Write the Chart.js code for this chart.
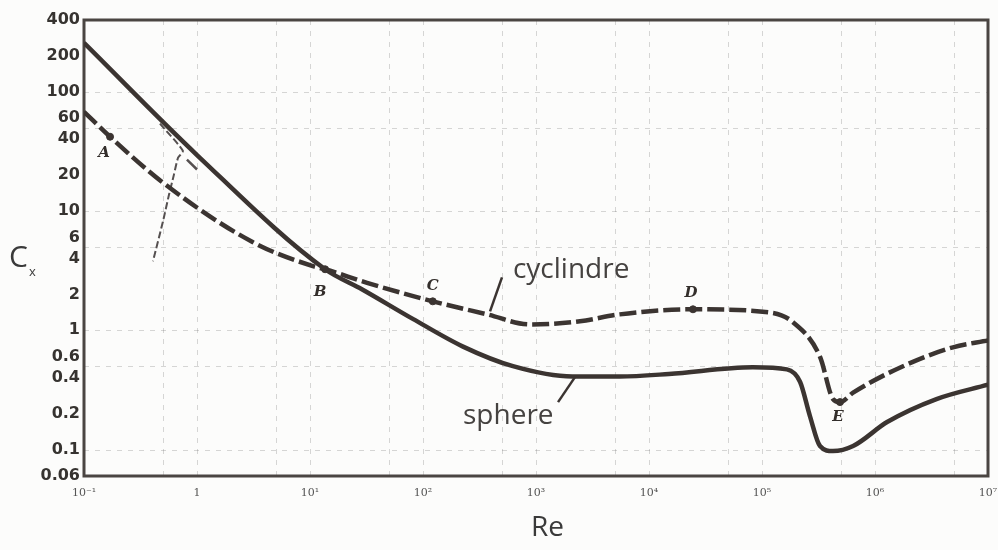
<!DOCTYPE html>
<html>
<head>
  <title>Cx vs Re</title>
  <script src="https://cdn.jsdelivr.net/npm/chart.js"></script>
  <style>
    body {
      margin: 0;
      padding: 0;
      background: #fcfcfb;
    }
    .wrap {
      width: 998px;
      height: 550px;
    }
  </style>
</head>
<body>
  <div class="wrap"><canvas id="cx"></canvas></div>
  <script>
    // values
    const sphereRe = [0.1, 1, 13.6, 29, 82, 226, 625, 2100, 5500, 15000, 83000, 166000, 217000, 266000, 326000, 425000, 640000, 1.28e6, 3.5e6, 1e7];
    const sphereCx = [257, 29.5, 3.25, 2.2, 1.24, 0.73, 0.5, 0.41, 0.41, 0.43, 0.49, 0.47, 0.37, 0.19, 0.107, 0.097, 0.107, 0.17, 0.265, 0.35];

    const cylRe = [0.1, 0.17, 0.5, 3.1, 10.6, 13.6, 32, 122, 370, 885, 2450, 5500, 24500, 118000, 188000, 326000, 425000, 490000, 640000, 1.77e6, 4.9e6, 1e7];
    const cylCx = [68, 42, 17.3, 5.5, 3.45, 3.25, 2.5, 1.75, 1.36, 1.12, 1.19, 1.36, 1.5, 1.41, 1.17, 0.6, 0.265, 0.25, 0.30, 0.5, 0.72, 0.82];

    // little side curves near Re = 1
    const auxRe = [0.47, 0.75, 0.68, 0.625, 0.565, 0.5, 0.408];
    const auxCx = [54, 32, 28, 20.2, 13.7, 8.2, 3.8];
    const stubRe = [0.815, 1.0];
    const stubCx = [27, 22.3];

    const pointNames = ['A', 'B', 'C', 'D', 'E'];
    const pointRe = [0.17, 13.6, 122, 24500, 490000];
    const pointCx = [42, 3.25, 1.75, 1.5, 0.25];

    const xTicks = [0.1, 1, 10, 100, 1e3, 1e4, 1e5, 1e6, 1e7];
    const xTickLabels = ['10\u207B\u00B9', '1', '10\u00B9', '10\u00B2', '10\u00B3', '10\u2074', '10\u2075', '10\u2076', '10\u2077'];
    const yTicks = [400, 200, 100, 60, 40, 20, 10, 6, 4, 2, 1, 0.6, 0.4, 0.2, 0.1, 0.06];
    const xGrid = [0.5, 1, 5, 10, 50, 100, 500, 1e3, 5e3, 1e4, 5e4, 1e5, 5e5, 1e6, 5e6];
    const yGrid = [100, 50, 10, 5, 1, 0.5, 0.1];

    const ink = '#3b3431';

    function pts(xs, ys) {
      return xs.map((x, i) => ({ x: x, y: ys[i] }));
    }

    const extras = {
      id: 'extras',
      beforeDatasetsDraw(chart) {
        const ctx = chart.ctx, a = chart.chartArea;
        const xs = chart.scales.x, ys = chart.scales.y;
        ctx.save();
        ctx.strokeStyle = 'rgba(110,110,110,0.28)';
        ctx.lineWidth = 1;
        ctx.setLineDash([5, 6]);
        xGrid.forEach(v => {
          const px = Math.round(xs.getPixelForValue(v)) + 0.5;
          ctx.beginPath(); ctx.moveTo(px, a.top); ctx.lineTo(px, a.bottom); ctx.stroke();
        });
        yGrid.forEach(v => {
          const py = Math.round(ys.getPixelForValue(v)) + 0.5;
          ctx.beginPath(); ctx.moveTo(a.left, py); ctx.lineTo(a.right, py); ctx.stroke();
        });
        ctx.setLineDash([]);
        ctx.strokeStyle = '#4a4542';
        ctx.lineWidth = 3;
        ctx.strokeRect(a.left, a.top, a.right - a.left, a.bottom - a.top);
        ctx.restore();
      },
      afterDatasetsDraw(chart) {
        const ctx = chart.ctx;
        const xs = chart.scales.x, ys = chart.scales.y;
        const P = (re, cx) => [xs.getPixelForValue(re), ys.getPixelForValue(cx)];
        ctx.save();

        // leader lines
        ctx.strokeStyle = ink;
        ctx.lineWidth = 2.5;
        [[392, 1.44, 500, 2.78], [2213, 0.405, 1567, 0.25]].forEach(l => {
          const p1 = P(l[0], l[1]), p2 = P(l[2], l[3]);
          ctx.beginPath(); ctx.moveTo(p1[0], p1[1]); ctx.lineTo(p2[0], p2[1]); ctx.stroke();
        });

        // curve names
        ctx.fillStyle = '#454240';
        ctx.font = '28px "Open Sans"';
        ctx.textAlign = 'left';
        ctx.textBaseline = 'alphabetic';
        let p = P(625, 2.72);
        ctx.fillText('cyclindre', p[0], p[1]);
        p = P(226, 0.163);
        ctx.fillText('sphere', p[0], p[1]);

        // point letters
        const offs = [[-6, 16], [-5, 23], [0, -15], [-2, -16], [-2, 15]];
        ctx.font = 'italic bold 15px "DejaVu Serif"';
        ctx.textAlign = 'center';
        ctx.textBaseline = 'middle';
        ctx.fillStyle = '#332e2b';
        pointNames.forEach((n, i) => {
          const q = P(pointRe[i], pointCx[i]);
          ctx.fillText(n, q[0] + offs[i][0], q[1] + offs[i][1]);
        });

        // axis titles
        ctx.fillStyle = '#3a3a3a';
        ctx.textAlign = 'left';
        ctx.textBaseline = 'alphabetic';
        ctx.font = '30px "Open Sans"';
        ctx.fillText('C', 9, 267);
        ctx.font = '13px "Open Sans"';
        ctx.fillText('x', 29, 276);
        ctx.font = '28px "Open Sans"';
        ctx.fillText('Re', 531, 536);
        ctx.restore();
      }
    };

    new Chart(document.getElementById('cx'), {
      type: 'scatter',
      data: {
        datasets: [
          {
            label: 'sphere',
            data: pts(sphereRe, sphereCx),
            showLine: true,
            borderColor: ink,
            borderWidth: 4.5,
            pointRadius: 0,
            cubicInterpolationMode: 'monotone'
          },
          {
            label: 'cyclindre',
            data: pts(cylRe, cylCx),
            showLine: true,
            borderColor: ink,
            borderWidth: 4.5,
            borderDash: [17, 5],
            pointRadius: 0,
            cubicInterpolationMode: 'monotone'
          },
          {
            label: 'aux',
            data: pts(auxRe, auxCx),
            showLine: true,
            borderColor: '#555050',
            borderWidth: 2,
            borderDash: [7, 3],
            pointRadius: 0,
            tension: 0.2
          },
          {
            label: 'stub',
            data: pts(stubRe, stubCx),
            showLine: true,
            borderColor: '#555050',
            borderWidth: 2.5,
            pointRadius: 0
          },
          {
            label: 'points',
            data: pts(pointRe, pointCx),
            showLine: false,
            pointRadius: 3.5,
            pointBackgroundColor: ink,
            pointBorderColor: ink
          }
        ]
      },
      options: {
        responsive: true,
        maintainAspectRatio: false,
        animation: false,
        layout: { padding: { top: 20, right: 10, left: 0, bottom: 0 } },
        plugins: {
          legend: { display: false },
          tooltip: { enabled: false }
        },
        scales: {
          x: {
            type: 'logarithmic',
            min: 0.1,
            max: 1e7,
            afterBuildTicks: s => { s.ticks = xTicks.map(v => ({ value: v })); },
            afterFit: s => { s.height = 74; s.paddingLeft = 0; s.paddingRight = 0; },
            grid: { display: false, drawTicks: false },
            border: { display: false },
            ticks: {
              autoSkip: false,
              maxRotation: 0,
              padding: 11,
              color: '#555',
              font: { family: '"DejaVu Serif"', size: 11 },
              callback: function (v) {
                const i = xTicks.indexOf(v);
                return i >= 0 ? xTickLabels[i] : '';
              }
            }
          },
          y: {
            type: 'logarithmic',
            min: 0.06,
            max: 400,
            afterBuildTicks: s => { s.ticks = yTicks.map(v => ({ value: v })); },
            afterFit: s => { s.width = 84; s.paddingTop = 0; s.paddingBottom = 0; },
            grid: { display: false, drawTicks: false },
            border: { display: false },
            ticks: {
              autoSkip: false,
              padding: 4,
              color: '#363330',
              font: { family: '"DejaVu Sans"', size: 16, weight: 'bold' },
              callback: v => String(v)
            }
          }
        }
      },
      plugins: [extras]
    });
  </script>
</body>
</html>
